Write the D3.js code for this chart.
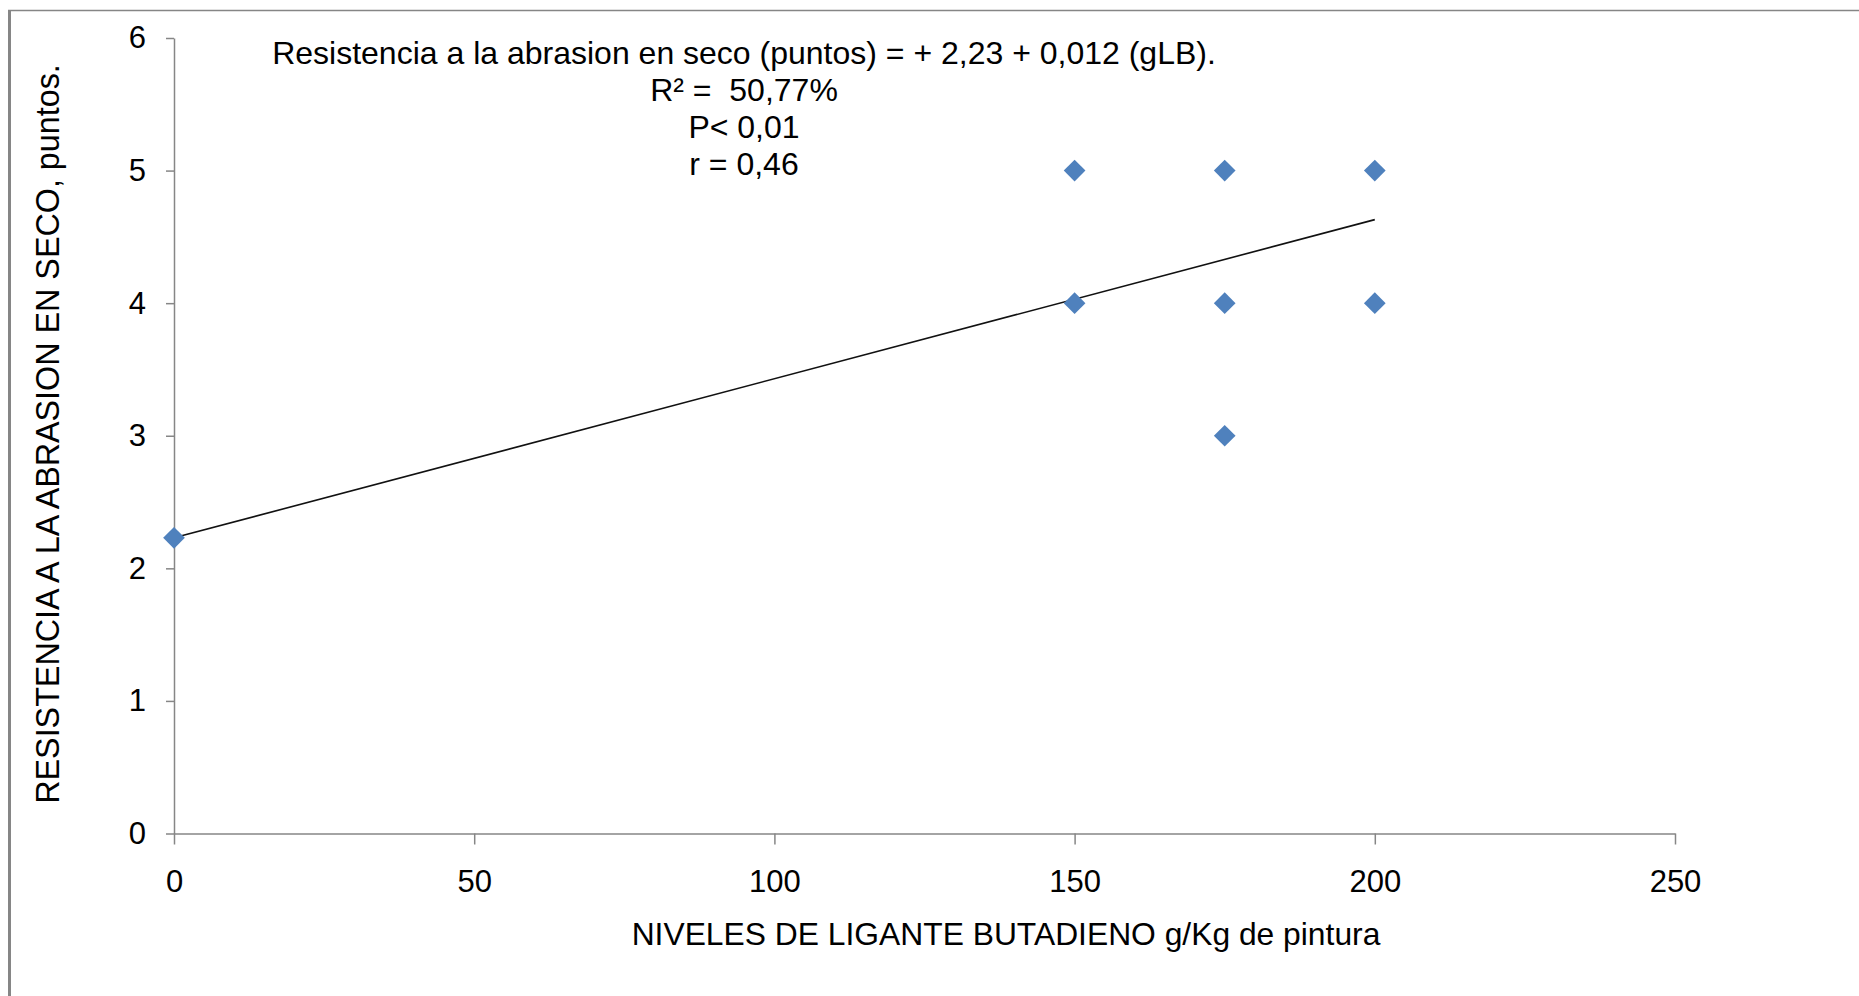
<!DOCTYPE html>
<html>
<head>
<meta charset="utf-8">
<script src="https://cdn.jsdelivr.net/npm/d3@7"></script>
<style>
  html, body { margin: 0; padding: 0; background: #fff; }
  svg { display: block; }
  text { font-family: "Liberation Sans", Arial, sans-serif; fill: #000; }
</style>
</head>
<body>
<script>
// Dry-abrasion resistance vs. butadiene binder level
const levels = [0, 150, 150, 175, 175, 175, 200, 200];        // g/Kg de pintura
const scores = [2.23, 5, 4, 5, 4, 3, 5, 4];                    // puntos
const xTicks = [0, 50, 100, 150, 200, 250];
const yTicks = [0, 1, 2, 3, 4, 5, 6];

// Fitted regression: y = 2.23 + 0.012 x, drawn over the observed range
const fitIntercept = 2.23;
const fitSlope = 0.012;
const fitRange = [0, 200];

const statLines = [
  "Resistencia a la abrasion en seco (puntos) = + 2,23 + 0,012 (gLB).",
  "R\u00B2 =  50,77%",
  "P< 0,01",
  "r = 0,46"
];
const xTitle = "NIVELES DE LIGANTE BUTADIENO g/Kg de pintura";
const yTitle = "RESISTENCIA A LA ABRASION EN SECO, puntos.";

const W = 1859, H = 996;
const axisColor = "#868686";
const markerColor = "#4F81BD";

const svg = d3.select("body").append("svg")
  .attr("width", W).attr("height", H);

svg.append("rect").attr("width", W).attr("height", H).attr("fill", "#fff");

// Outer chart frame (left and top edges visible)
svg.append("line").attr("x1", 9.5).attr("x2", 9.5).attr("y1", 10).attr("y2", H)
  .attr("stroke", axisColor).attr("stroke-width", 3);
svg.append("line").attr("x1", 8).attr("x2", W).attr("y1", 10.5).attr("y2", 10.5)
  .attr("stroke", axisColor).attr("stroke-width", 1.5);

const plot = { left: 174, right: 1675, top: 38, bottom: 833.5 };

const x = d3.scaleLinear().domain([0, 250]).range([plot.left, plot.right]);
const y = d3.scaleLinear().domain([0, 6]).range([plot.bottom, plot.top]);

// Axes
const gx = svg.append("g")
  .attr("transform", `translate(0,${plot.bottom})`)
  .call(d3.axisBottom(x).tickValues(xTicks).tickFormat(d3.format("d"))
    .tickSize(11).tickSizeOuter(0).tickPadding(25));

const gy = svg.append("g")
  .attr("transform", `translate(${plot.left},0)`)
  .call(d3.axisLeft(y).tickValues(yTicks).tickFormat(d3.format("d"))
    .tickSize(8).tickSizeOuter(0).tickPadding(20));

[gx, gy].forEach(g => {
  g.select(".domain").attr("stroke", axisColor).attr("stroke-width", 1.5);
  g.selectAll(".tick line").attr("stroke", axisColor).attr("stroke-width", 1.5);
  g.selectAll(".tick text")
    .attr("font-family", "Liberation Sans, Arial, sans-serif")
    .attr("font-size", 31)
    .attr("fill", "#000");
});

// Regression line
const fitLine = d3.line()
  .x(d => x(d))
  .y(d => y(fitIntercept + fitSlope * d));
svg.append("path")
  .datum(fitRange)
  .attr("d", fitLine)
  .attr("fill", "none")
  .attr("stroke", "#111")
  .attr("stroke-width", 1.6);

// Observations as diamonds
const diamond = d3.symbol().type(d3.symbolDiamond2).size(300);
svg.append("g").selectAll("path")
  .data(levels.map((v, i) => [v, scores[i]]))
  .join("path")
  .attr("d", diamond)
  .attr("transform", d => `translate(${x(d[0])},${y(d[1])})`)
  .attr("fill", markerColor);

// Regression statistics
const stats = svg.append("text")
  .attr("font-size", 32)
  .attr("text-anchor", "middle")
  .style("white-space", "pre");
statLines.forEach((s, i) => {
  stats.append("tspan")
    .attr("x", 744)
    .attr("y", 64 + i * 37)
    .text(s);
});

// Axis titles
svg.append("text")
  .attr("x", 1006).attr("y", 944.5)
  .attr("text-anchor", "middle")
  .attr("font-size", 31.8)
  .text(xTitle);

svg.append("text")
  .attr("transform", "translate(59,434) rotate(-90)")
  .attr("text-anchor", "middle")
  .attr("font-size", 32.3)
  .text(yTitle);
</script>
</body>
</html>
